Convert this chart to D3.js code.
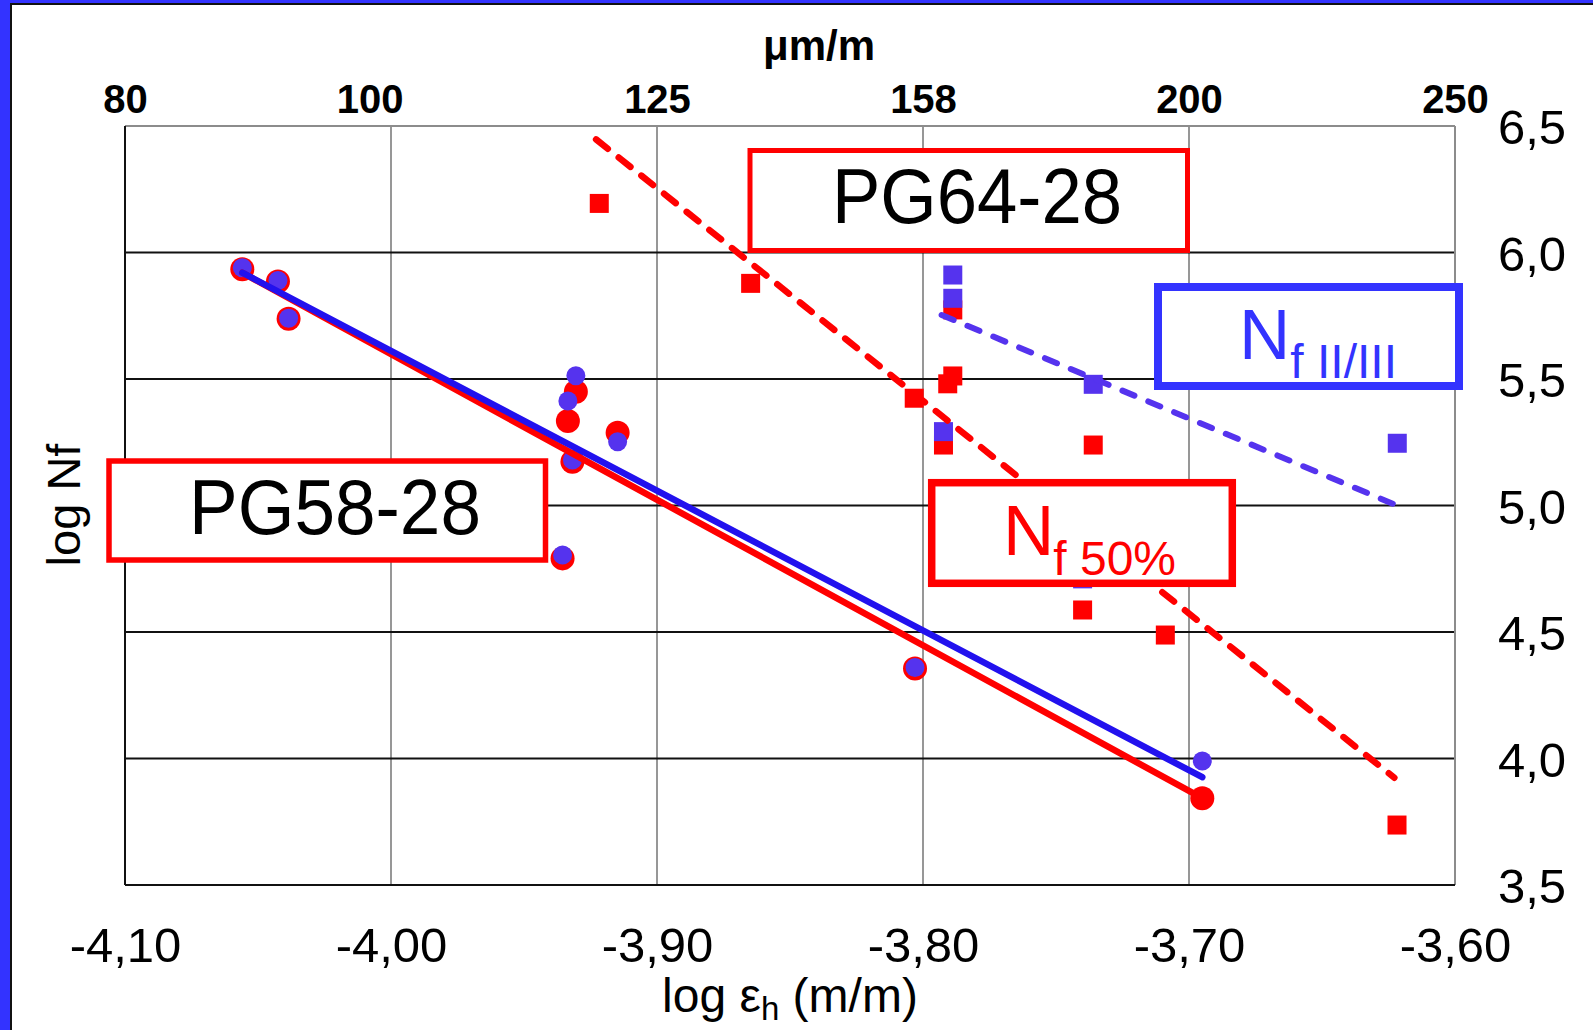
<!DOCTYPE html>
<html>
<head>
<meta charset="utf-8">
<script src="https://cdn.jsdelivr.net/npm/d3@7"></script>
<style>
  html, body { margin: 0; padding: 0; background: #fff; }
  svg { display: block; }
  text { font-family: "Liberation Sans", Arial, sans-serif; }
</style>
</head>
<body>
<svg id="chart" width="1593" height="1030"></svg>
<script>
// ---------------- DATA ----------------
// bottom axis: log strain (m/m)
const xTicks = [-4.10, -4.00, -3.90, -3.80, -3.70, -3.60];
const xTickLabels = ["-4,10", "-4,00", "-3,90", "-3,80", "-3,70", "-3,60"];
// right axis: log Nf
const yTicks = [3.5, 4.0, 4.5, 5.0, 5.5, 6.0, 6.5];
const yTickLabels = ["3,5", "4,0", "4,5", "5,0", "5,5", "6,0", "6,5"];
// top axis: microstrain labels and the log strain where each sits
const topLabels = ["80", "100", "125", "158", "200", "250"];
const topLabelAt = [-4.10, -4.008, -3.90, -3.80, -3.70, -3.60];

// PG58-28 (circles)
const pg58Strain = [-4.0559, -4.0425, -4.0385, -3.9305, -3.9335, -3.9318, -3.9148, -3.9355, -3.8030, -3.6950];
const pg58Nf50   = [5.934, 5.885, 5.738, 5.450, 5.334, 5.173, 5.288, 4.791, 4.356, 3.843];
const pg58Nf23   = [5.940, 5.889, 5.740, 5.513, 5.413, 5.180, 5.252, 4.804, 4.360, 3.990];

// PG64-28 (squares)
const pg64Strain50 = [-3.9217, -3.8648, -3.8033, -3.7888, -3.7888, -3.7907, -3.7923, -3.7360, -3.7400, -3.7089, -3.6218];
const pg64Nf50     = [6.194, 5.878, 5.424, 5.773, 5.512, 5.481, 5.239, 5.239, 4.587, 4.488, 3.737];
const pg64Strain23 = [-3.7888, -3.7888, -3.7923, -3.7360, -3.7400, -3.6217];
const pg64Nf23     = [5.911, 5.819, 5.292, 5.479, 4.710, 5.246];

// trend lines (end points: strain, log Nf)
const trend58Nf50Strain = [-4.0559, -3.6950];
const trend58Nf50Value  = [5.920, 3.843];
const trend58Nf23Strain = [-4.0559, -3.6950];
const trend58Nf23Value  = [5.920, 3.926];
const trend64Nf50Strain = [-3.9229, -3.6228];
const trend64Nf50Value  = [6.447, 3.924];
const trend64Nf23Strain = [-3.7930, -3.6222];
const trend64Nf23Value  = [5.753, 5.002];

// ---------------- STYLE ----------------
const RED = "#ff0000", PURPLE = "#5533ee", BLUE = "#2211ee", FRAMEBLUE = "#3333ff";

const svg = d3.select("#chart");
const W = 1593, H = 1030;
const L = 125, R = 1455, T = 126, B = 885;

const x = d3.scaleLinear().domain([-4.10, -3.60]).range([L, R]);
const y = d3.scaleLinear().domain([3.5, 6.5]).range([B, T]);

// page frame
svg.append("rect").attr("x", 0).attr("y", 0).attr("width", W).attr("height", H).attr("fill", FRAMEBLUE);
svg.append("rect").attr("x", 11).attr("y", 4).attr("width", W + 20).attr("height", H + 20)
  .attr("fill", "#fff").attr("stroke", "#111").attr("stroke-width", 2);

// gridlines
svg.append("g").selectAll("line").data(xTicks.slice(1, -1)).join("line")
  .attr("x1", d => x(d)).attr("x2", d => x(d)).attr("y1", T).attr("y2", B)
  .attr("stroke", "#8c8c8c").attr("stroke-width", 1.8);
svg.append("g").selectAll("line").data(yTicks.slice(1, -1)).join("line")
  .attr("x1", L).attr("x2", R).attr("y1", d => y(d)).attr("y2", d => y(d))
  .attr("stroke", "#111").attr("stroke-width", 2);
// plot frame
svg.append("line").attr("x1", L).attr("x2", R).attr("y1", T).attr("y2", T).attr("stroke", "#8c8c8c").attr("stroke-width", 2);
svg.append("line").attr("x1", R).attr("x2", R).attr("y1", T).attr("y2", B).attr("stroke", "#8c8c8c").attr("stroke-width", 2);
svg.append("line").attr("x1", L).attr("x2", L).attr("y1", T).attr("y2", B).attr("stroke", "#111").attr("stroke-width", 2);
svg.append("line").attr("x1", L).attr("x2", R).attr("y1", B).attr("y2", B).attr("stroke", "#111").attr("stroke-width", 2);

// axes (labels only)
function styleAxis(g) {
  g.select(".domain").remove();
  g.selectAll(".tick line").remove();
  g.attr("font-family", null).attr("font-size", null);
}
const gx = svg.append("g").attr("transform", `translate(0,${B})`)
  .call(d3.axisBottom(x).tickValues(xTicks).tickFormat((d, i) => xTickLabels[i]).tickSize(0))
  .call(styleAxis);
gx.selectAll("text").attr("y", 77).attr("dy", null)
  .style("font-size", "49px").attr("fill", "#000");

const gy = svg.append("g").attr("transform", `translate(${R},0)`)
  .call(d3.axisRight(y).tickValues(yTicks).tickFormat((d, i) => yTickLabels[i]).tickSize(0))
  .call(styleAxis);
gy.selectAll("text").attr("x", 43).attr("dy", "0.36em")
  .style("font-size", "49px").attr("fill", "#000");

const gt = svg.append("g").attr("transform", `translate(0,${T})`)
  .call(d3.axisTop(x).tickValues(topLabelAt).tickFormat((d, i) => topLabels[i]).tickSize(0))
  .call(styleAxis);
gt.selectAll("text").attr("y", -13).attr("dy", null)
  .style("font-size", "40px").style("font-weight", "bold").attr("fill", "#000");

// axis titles
svg.append("text").attr("x", 819).attr("y", 60).attr("text-anchor", "middle")
  .style("font-size", "42px").style("font-weight", "bold").text("μm/m");
svg.append("text").attr("transform", "translate(80,505) rotate(-90)").attr("text-anchor", "middle")
  .style("font-size", "47px").text("log Nf");
const xt = svg.append("text").attr("x", 790).attr("y", 1012).attr("text-anchor", "middle").style("font-size", "48px");
xt.append("tspan").text("log ε");
xt.append("tspan").attr("dy", 8).style("font-size", "33px").text("h");
xt.append("tspan").attr("dy", -8).text(" (m/m)");

// markers
const zip = (a, b) => a.map((v, i) => [v, b[i]]);
svg.append("g").selectAll("circle").data(zip(pg58Strain, pg58Nf50)).join("circle")
  .attr("cx", d => x(d[0])).attr("cy", d => y(d[1])).attr("r", 12).attr("fill", RED);
svg.append("g").selectAll("circle").data(zip(pg58Strain, pg58Nf23)).join("circle")
  .attr("cx", d => x(d[0])).attr("cy", d => y(d[1])).attr("r", 9.5).attr("fill", PURPLE);
const S = 19;
svg.append("g").selectAll("rect").data(zip(pg64Strain50, pg64Nf50)).join("rect")
  .attr("x", d => x(d[0]) - S / 2).attr("y", d => y(d[1]) - S / 2).attr("width", S).attr("height", S).attr("fill", RED);
svg.append("g").selectAll("rect").data(zip(pg64Strain23, pg64Nf23)).join("rect")
  .attr("x", d => x(d[0]) - S / 2).attr("y", d => y(d[1]) - S / 2).attr("width", S).attr("height", S).attr("fill", PURPLE);

// trend lines
const line = d3.line().x(d => x(d[0])).y(d => y(d[1]));
svg.append("path").datum(zip(trend58Nf50Strain, trend58Nf50Value)).attr("d", line)
  .attr("stroke", RED).attr("stroke-width", 6.5).attr("fill", "none").attr("stroke-linecap", "round");
svg.append("path").datum(zip(trend58Nf23Strain, trend58Nf23Value)).attr("d", line)
  .attr("stroke", BLUE).attr("stroke-width", 6.5).attr("fill", "none").attr("stroke-linecap", "round");
svg.append("path").datum(zip(trend64Nf50Strain, trend64Nf50Value)).attr("d", line)
  .attr("stroke", RED).attr("stroke-width", 6.5).attr("fill", "none")
  .attr("stroke-linecap", "round").attr("stroke-dasharray", "15,14");
svg.append("path").datum(zip(trend64Nf23Strain, trend64Nf23Value)).attr("d", line)
  .attr("stroke", PURPLE).attr("stroke-width", 6).attr("fill", "none")
  .attr("stroke-linecap", "round").attr("stroke-dasharray", "13,15");

// annotation boxes
function box(x0, y0, x1, y1, color, sw) {
  svg.append("rect").attr("x", x0).attr("y", y0).attr("width", x1 - x0).attr("height", y1 - y0)
    .attr("fill", "#fff").attr("stroke", color).attr("stroke-width", sw);
}
box(750, 150.5, 1187.5, 250.5, RED, 5);
svg.append("text").attr("x", 977).attr("y", 223).attr("text-anchor", "middle")
  .attr("textLength", 290).attr("lengthAdjust", "spacingAndGlyphs")
  .style("font-size", "77px").attr("fill", "#000").text("PG64-28");

box(109, 461, 545.5, 560, RED, 5.5);
svg.append("text").attr("x", 335).attr("y", 534).attr("text-anchor", "middle")
  .attr("textLength", 292).attr("lengthAdjust", "spacingAndGlyphs")
  .style("font-size", "77px").attr("fill", "#000").text("PG58-28");

box(1158, 287, 1459, 386, FRAMEBLUE, 8);
const t1 = svg.append("text").attr("x", 1239).attr("y", 359).attr("fill", FRAMEBLUE);
t1.append("tspan").style("font-size", "71px").text("N");
t1.append("tspan").attr("dy", 19).attr("dx", 0).style("font-size", "48px").text("f II/III");

box(931.7, 482.7, 1232.3, 583.3, RED, 7.5);
const t2 = svg.append("text").attr("x", 1003).attr("y", 555).attr("fill", RED);
t2.append("tspan").style("font-size", "71px").text("N");
t2.append("tspan").attr("dy", 19.5).attr("dx", -1).style("font-size", "48px").text("f 50%");
</script>
</body>
</html>
